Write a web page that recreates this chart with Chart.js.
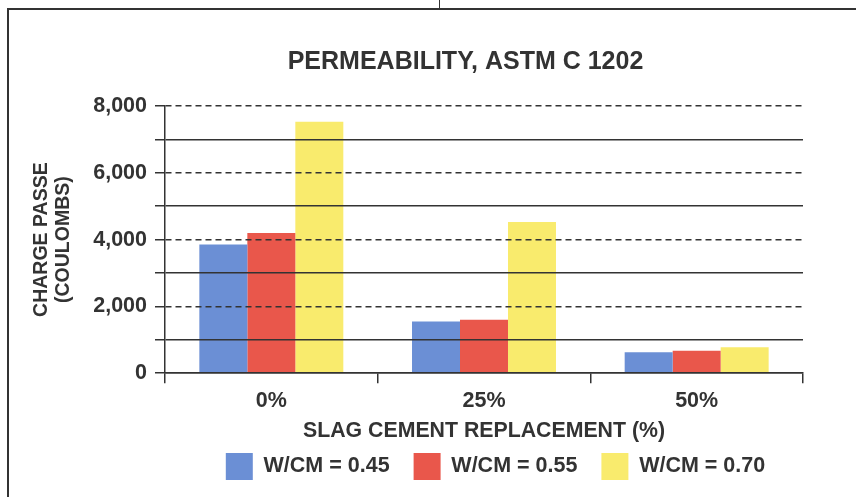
<!DOCTYPE html>
<html>
<head>
<meta charset="utf-8">
<script src="https://cdn.jsdelivr.net/npm/chart.js@4"></script>
<style>
  body { margin: 0; background: #fff; }
  #frame { position: absolute; left: 7px; top: 8px; width: 849px; height: 489px;
           border-top: 2px solid #333; border-left: 2px solid #333; }
  #notch { position: absolute; left: 439px; top: 0; width: 1px; height: 9px; background: #333; }
  #mygraph { position: absolute; left: 0; top: 0; }
</style>
</head>
<body>
<div id="frame"></div>
<div id="notch"></div>
<canvas id="mygraph" width="856" height="497"></canvas>
<script>
const categories = ['0%', '25%', '50%'];
const seriesNames = ['W/CM = 0.45', 'W/CM = 0.55', 'W/CM = 0.70'];
const wcm045 = [3850, 1550, 625];
const wcm055 = [4200, 1600, 675];
const wcm070 = [7525, 4525, 775];
const seriesColors = ['#6b8fd5', '#e9574b', '#f9eb6d'];

const ink = '#333333';
const fontFamily = '"Liberation Sans", Arial, Helvetica, sans-serif';

// title and legend are not centred on the plot in the original, push them over a bit
const nudge = {
    id: 'nudge',
    afterLayout(chart) {
        const t = chart.titleBlock;
        t.left += 52; t.right += 52;
        const l = chart.legend;
        l.left += 82; l.right += 82;
        l.top -= 7; l.bottom -= 7;
    }
}

function thousands(v) {
    return String(v).replace(/\B(?=(\d{3})+(?!\d))/g, ',');
}

const yAxis = {
    min: 0,
    max: 8000,
    afterFit: function(scale) { scale.width = 141; },
    ticks: {
        stepSize: 1000,
        autoSkip: false,
        padding: 8,
        color: ink,
        font: {family: fontFamily, size: 21.5, weight: 'bold'},
        callback: v => v % 2000 === 0 ? thousands(v) : ''
    },
    grid: {
        color: ink,
        lineWidth: 1.5,
        tickLength: 10,
        tickBorderDash: [],
        z: 1
    },
    border: {
        color: ink,
        width: 1.5,
        z: 1,
        dash: c => (c.tick && c.tick.value > 0 && c.tick.value % 2000 === 0) ? [6, 4] : []
    },
    title: {
        display: true,
        text: ['CHARGE PASSE', '(COULOMBS)'],
        color: ink,
        font: {family: fontFamily, size: 19.5, weight: 'bold', lineHeight: '22px'},
        padding: {top: 6.5, bottom: 0}
    }
}

const xAxis = {
    ticks: {
        padding: 5,
        color: ink,
        font: {family: fontFamily, size: 21.5, weight: 'bold'}
    },
    grid: {
        drawOnChartArea: false,
        color: ink,
        lineWidth: 1.5,
        tickLength: 10,
        z: 1
    },
    border: {color: ink, width: 1.5, z: 1},
    title: {
        display: true,
        text: 'SLAG CEMENT REPLACEMENT (%)',
        color: ink,
        font: {family: fontFamily, size: 21.3, weight: 'bold', lineHeight: '10px'},
        padding: {top: 7, bottom: 0}
    }
}

const datasets = [wcm045, wcm055, wcm070].map((vals, i) => ({
    label: seriesNames[i],
    data: vals,
    backgroundColor: seriesColors[i],
    borderWidth: 0,
    categoryPercentage: 0.677,
    barPercentage: 1
}));

const ctx = document.getElementById('mygraph').getContext('2d');
const chart = new Chart(ctx, {
    type: 'bar',
    data: {labels: categories, datasets: datasets},
    plugins: [nudge],
    options: {
        responsive: false,
        animation: false,
        layout: {padding: {left: 24, right: 53, top: 0, bottom: 0}},
        scales: {x: xAxis, y: yAxis},
        plugins: {
            title: {
                display: true,
                text: 'PERMEABILITY, ASTM C 1202',
                color: ink,
                font: {family: fontFamily, size: 25, weight: 'bold', lineHeight: 1.2},
                padding: {top: 47, bottom: 29}
            },
            legend: {
                position: 'bottom',
                labels: {
                    boxWidth: 27,
                    boxHeight: 27,
                    padding: 24,
                    color: ink,
                    font: {family: fontFamily, size: 21.5, weight: 'bold'}
                }
            },
            tooltip: {enabled: false}
        }
    }
})
</script>
</body>
</html>
